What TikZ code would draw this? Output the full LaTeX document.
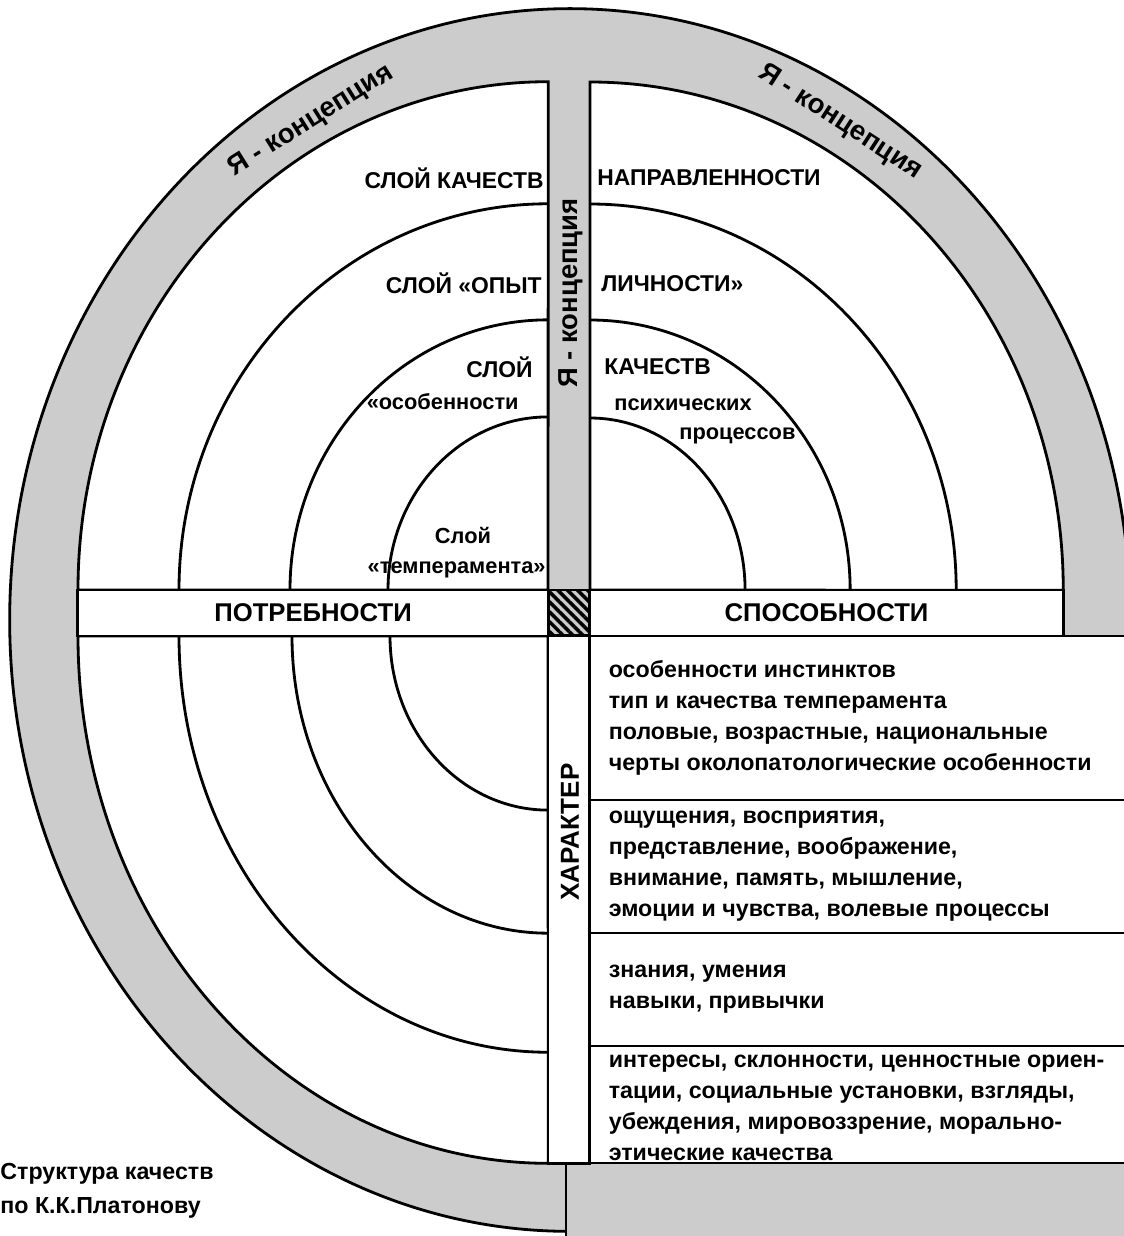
\documentclass[tikz,border=0pt]{standalone}
\usepackage{fontspec}
\setmainfont{Liberation Sans}
\usepackage{tikz}
\usetikzlibrary{positioning,patterns.meta}

\definecolor{ringgray}{gray}{0.8}

\tikzset{
  layerlabel/.style={font=\bfseries\fontsize{6.5}{8}\selectfont, inner sep=0pt},
  softlabel/.style={font=\bfseries\fontsize{6.2}{7}\selectfont, inner sep=0pt},
  ringlabel/.style={font=\bfseries\fontsize{7.8}{8}\selectfont, inner sep=0pt},
  bandbox/.style={draw, fill=white, minimum height=0.46cm, inner sep=0pt,
    font=\bfseries\fontsize{7.3}{8}\selectfont},
  rowbox/.style={draw, fill=white, minimum width=5.5cm, inner sep=0pt},
  rowtext/.style={font=\bfseries\fontsize{6.6}{8.8}\selectfont, align=left, inner sep=0pt},
  captext/.style={font=\bfseries\fontsize{6.6}{9.7}\selectfont, align=left, inner sep=0pt}
}

\begin{document}
\begin{tikzpicture}[x=0.01cm, y=-0.01cm, line width=0.8pt]
\useasboundingbox (0,0) rectangle (1124,1236);

% the grey ring of the self-concept
\filldraw[fill=ringgray] (570,620) ellipse [x radius=5.6cm, y radius=6.11cm];
\fill[ringgray] (566,1163) rectangle (1140,1245);
\draw (566,1163) -- (566,1245);

% three quarters with the layers
\filldraw[fill=white] (78,590) arc[start angle=180, end angle=90, x radius=4.7cm, y radius=5.08cm] -- (548,590) -- cycle;
\filldraw[fill=white] (590,590) -- (590,82) arc[start angle=90, end angle=0, x radius=4.73cm, y radius=5.08cm] -- cycle;
\filldraw[fill=white] (78,636) arc[start angle=180, end angle=270, x radius=4.7cm, y radius=5.27cm] -- (548,636) -- cycle;

\draw (388,590) arc[start angle=180, end angle=90, x radius=1.6cm, y radius=1.73cm];
\draw (290,590) arc[start angle=180, end angle=90, x radius=2.58cm, y radius=2.7cm];
\draw (179,590) arc[start angle=180, end angle=90, x radius=3.69cm, y radius=3.86cm];

\draw (590,418) arc[start angle=90, end angle=0, x radius=1.55cm, y radius=1.72cm];
\draw (590,320) arc[start angle=90, end angle=0, x radius=2.6cm, y radius=2.7cm];
\draw (590,204) arc[start angle=90, end angle=0, x radius=3.66cm, y radius=3.86cm];

\draw (390,636) arc[start angle=180, end angle=270, x radius=1.58cm, y radius=1.74cm];
\draw (292,636) arc[start angle=180, end angle=270, x radius=2.56cm, y radius=2.97cm];
\draw (179,636) arc[start angle=180, end angle=270, x radius=3.69cm, y radius=4.16cm];

% bands
\node[bandbox, minimum width=4.7cm] (needs) at (313,613) {ПОТРЕБНОСТИ};
\node[bandbox, minimum width=4.73cm] (abilities) at (826.5,613) {СПОСОБНОСТИ};
\draw[pattern={Lines[angle=-45, distance=2pt, line width=1pt]}] (548,590) rectangle (590,636);

% character column and the table
\node[draw, fill=white, minimum width=0.42cm, minimum height=5.27cm, inner sep=0pt] (charbar) at (569,899.5) {};
\node[layerlabel, font=\bfseries\fontsize{7.4}{8}\selectfont, rotate=90] (character) at (570,832) {ХАРАКТЕР};

\node[rowbox, minimum height=1.64cm] (instincts) at (865,718) {};
\node[rowbox, minimum height=1.33cm] (processes) at (865,866.5) {};
\node[rowbox, minimum height=1.13cm] (skills) at (865,989.5) {};
\node[rowbox, minimum height=1.17cm] (views) at (865,1104.5) {};

\node[rowtext, right=0.19cm of instincts.west] (instinctstext) {особенности инстинктов\\тип и качества темперамента\\половые, возрастные, национальные\\черты околопатологические особенности};
\node[rowtext, right=0.19cm of processes.west] (processestext) {ощущения, восприятия,\\представление, воображение,\\внимание, память, мышление,\\эмоции и чувства, волевые процессы};
\node[rowtext, right=0.19cm of skills.west] (skillstext) {знания, умения\\навыки, привычки};
\node[rowtext, right=0.19cm of views.west, yshift=-0.03cm] (viewstext) {интересы, склонности, ценностные ориен-\\тации, социальные установки, взгляды,\\убеждения, мировоззрение, морально-\\этические качества};

% layer names
\node[layerlabel, anchor=east] (orientl) at (545,178) {СЛОЙ КАЧЕСТВ};
\node[layerlabel, anchor=west] (orientr) at (596,178) {НАПРАВЛЕННОСТИ};
\node[layerlabel, anchor=east] (experl) at (543,283) {СЛОЙ «ОПЫТ};
\node[layerlabel, anchor=west] (experr) at (600,284) {ЛИЧНОСТИ»};
\node[layerlabel, anchor=east] (mentall) at (534,367) {СЛОЙ};
\node[layerlabel, anchor=west] (mentalr) at (603,367) {КАЧЕСТВ};
\node[softlabel, anchor=east] (featl) at (520,402) {«особенности};
\node[softlabel, anchor=west] (featr) at (613,405) {психических};
\node[softlabel, anchor=west] (proc) at (678,436) {процессов};
\node[softlabel] (temper) at (463,535) {Слой};
\node[softlabel, anchor=east] (tempername) at (547,570) {«темперамента»};

% self-concept labels
\node[ringlabel, rotate=32] (selfleft) at (311,121) {Я - концепция};
\node[ringlabel, rotate=-33] (selfright) at (840,122) {Я - концепция};
\node[ringlabel, rotate=90] (selfbar) at (571,293) {Я - концепция};

\node[captext, anchor=west] (caption) at (-1,1191) {Структура качеств\\по К.К.Платонову};
\end{tikzpicture}
\end{document}
